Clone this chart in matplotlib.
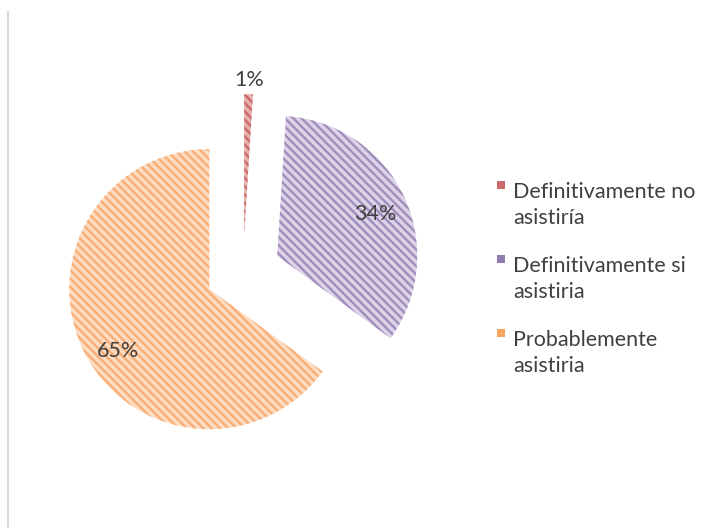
import numpy as np
import matplotlib.pyplot as plt
from matplotlib.patches import Rectangle
from matplotlib.lines import Line2D

labels = ['Definitivamente no\nasistiría', 'Definitivamente si\nasistiria', 'Probablemente\nasistiria']
values = [1, 34, 65]
pct_text = ['1%', '34%', '65%']
main_colors = ['#C0504D', '#8064A2', '#F79646']
face_colors = ['#E6AEAC', '#DCD3E8', '#FDDCC2']
hatch_colors = ['#CB6A67', '#A08DBB', '#F8AE76']

plt.rcParams['font.family'] = ['Lato', 'DejaVu Sans']
plt.rcParams['hatch.linewidth'] = 1.7

W, H = 715, 528
fig = plt.figure(figsize=(W / 100, H / 100), dpi=100)
ax = fig.add_axes([0, 0, 1, 1])

## pie (center / radius in pixel units)
cx, cy, r = 243, H - 272, 140
wedges, _ = ax.pie(values, center=(cx, cy), radius=r, startangle=90,
                   counterclock=False, explode=[0.27 * r] * 3,
                   colors=face_colors, frame=True,
                   wedgeprops=dict(linewidth=0))
ax.set_xlim(0, W)
ax.set_ylim(0, H)
ax.set_aspect('equal')
ax.axis('off')

pct_dist = [1.10, 0.76, 0.79]
pct_turn = [0, -2, 7]
for w, hc, t, d, dt in zip(wedges, hatch_colors, pct_text, pct_dist, pct_turn):
    w.set_hatch('\\\\\\\\')
    w.set_edgecolor(hc)
    w.set_linewidth(0)
    ang = np.deg2rad((w.theta1 + w.theta2) / 2 + dt)
    x0, y0 = w.center
    ax.text(x0 + d * r * np.cos(ang), y0 + d * r * np.sin(ang), t,
            ha='center', va='center', fontsize=15.5, color='#404040')

## legend drawn by hand so the marker sits at the first line
for i, (lab, c) in enumerate(zip(labels, main_colors)):
    ytop = 181 + i * 74
    ax.add_patch(Rectangle((497, H - ytop - 8), 8, 8, facecolor=c,
                           edgecolor='none', alpha=0.85))
    ax.text(513, H - ytop - 1, lab, ha='left', va='top', fontsize=15.5,
            color='#404040', linespacing=1.38)

fig.add_artist(Line2D([7.5 / W, 7.5 / W], [0, 1 - 12 / H],
                      transform=fig.transFigure, color='#D9D9D9', lw=1.5))

fig.savefig('out.png', dpi=100, facecolor='white')
